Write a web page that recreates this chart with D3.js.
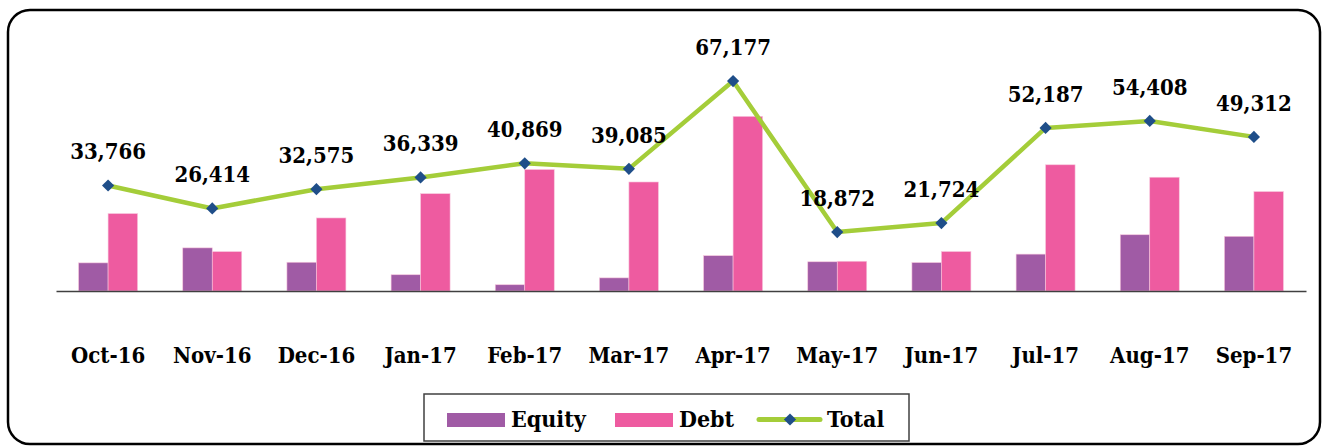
<!DOCTYPE html>
<html>
<head>
<meta charset="utf-8">
<script src="https://cdn.jsdelivr.net/npm/d3@7"></script>
<style>
  body { margin: 0; background: #fff; }
  svg text { font-stretch: condensed; }
</style>
</head>
<body>
<svg id="chart"></svg>
<script>
// chart data
const months = ["Oct-16", "Nov-16", "Dec-16", "Jan-17", "Feb-17", "Mar-17",
                "Apr-17", "May-17", "Jun-17", "Jul-17", "Aug-17", "Sep-17"];
const equity = [9000, 13800, 9200, 5200, 2000, 4200, 11300, 9350, 9100, 11800, 18000, 17500];
const debt = [24766, 12600, 23375, 31139, 38869, 34885, 55877, 9522, 12624, 40387, 36408, 31812];
const total = [33766, 26414, 32575, 36339, 40869, 39085, 67177, 18872, 21724, 52187, 54408, 49312];
const seriesNames = ["Equity", "Debt", "Total"];

const fontFamily = "'DejaVu Serif Condensed', 'DejaVu Serif', serif";

drawChart();

function drawChart() {
    const svgWidth = 1322;
    const svgHeight = 446;
    const colors = { Equity: "#A05BA5", Debt: "#EE5BA0", Total: "#A4CD39" };
    const markerColor = "#1F4E89";

    const svg = d3.select("#chart")
                  .attr("width", svgWidth)
                  .attr("height", svgHeight)
                  .style("font-family", fontFamily);

    // outer rounded frame
    svg.append("rect")
       .attr("x", 8).attr("y", 10)
       .attr("width", 1312).attr("height", 434)
       .attr("rx", 22).attr("ry", 22)
       .attr("fill", "none")
       .attr("stroke", "#000")
       .attr("stroke-width", 2.5);

    //scales
    const xScale = d3.scaleBand()
                     .domain(months)
                     .range([56, 1306])
                     .padding(0);

    const innerScale = d3.scaleBand()
                         .domain(["Equity", "Debt"])
                         .range([0, xScale.bandwidth()])
                         .paddingInner(0)
                         .paddingOuter(0.766);

    const yScale = d3.scaleLinear()
                     .domain([0, 80000])
                     .range([291, 41]);

    const rows = months.map((m, i) => ({ month: m, Equity: equity[i], Debt: debt[i], Total: total[i] }));

    // bars
    const groups = svg.append("g")
                      .selectAll("g")
                      .data(rows)
                      .enter()
                      .append("g")
                      .attr("transform", d => `translate(${xScale(d.month)},0)`);

    groups.selectAll("rect")
          .data(d => ["Equity", "Debt"].map(k => ({ key: k, value: d[k] })))
          .enter()
          .append("rect")
          .attr("x", d => innerScale(d.key))
          .attr("width", innerScale.bandwidth())
          .attr("y", d => yScale(d.value))
          .attr("height", d => yScale(0) - yScale(d.value))
          .attr("fill", d => colors[d.key])
          .attr("stroke", "#f7c6dd")
          .attr("stroke-width", 0.6);

    // x axis (baseline + labels)
    const xAxis = d3.axisBottom(xScale).tickSize(0).tickPadding(0);
    const axisG = svg.append("g")
                     .attr("transform", `translate(0, ${yScale(0)})`)
                     .call(xAxis);
    axisG.attr("font-family", fontFamily);
    axisG.select(".domain").attr("stroke", "#404040").attr("stroke-width", 1.5);
    axisG.selectAll(".tick text")
         .attr("y", 72)
         .attr("dy", 0)
         .attr("font-family", fontFamily)
         .attr("font-size", 22)
         .attr("font-weight", "bold")
         .attr("fill", "#000");

    // total line
    const cx = d => xScale(d.month) + xScale.bandwidth() / 2;
    const line = d3.line()
                   .x(cx)
                   .y(d => yScale(d.Total));

    svg.append("path")
       .datum(rows)
       .attr("d", line)
       .attr("fill", "none")
       .attr("stroke", colors.Total)
       .attr("stroke-width", 4.5)
       .attr("stroke-linejoin", "round");

    const diamond = d3.symbol().type(d3.symbolDiamond2).size(95);

    svg.append("g")
       .selectAll("path")
       .data(rows)
       .enter()
       .append("path")
       .attr("d", diamond)
       .attr("transform", d => `translate(${cx(d)},${yScale(d.Total)})`)
       .attr("fill", markerColor);

    // data labels
    svg.append("g")
       .selectAll("text")
       .data(rows)
       .enter()
       .append("text")
       .attr("x", cx)
       .attr("y", d => yScale(d.Total) - 26)
       .attr("text-anchor", "middle")
       .attr("font-family", fontFamily)
       .attr("font-size", 22)
       .attr("font-weight", "bold")
       .text(d => d3.format(",")(d.Total));

    // legend
    const legend = svg.append("g");
    legend.append("rect")
          .attr("x", 424).attr("y", 394)
          .attr("width", 485).attr("height", 47)
          .attr("fill", "#fff")
          .attr("stroke", "#404040")
          .attr("stroke-width", 1.5);

    const legendX = { Equity: 447, Debt: 615, Total: 759 };
    seriesNames.forEach(name => {
        const x = legendX[name];
        if (name === "Total") {
            legend.append("line")
                  .attr("x1", x).attr("x2", x + 61)
                  .attr("y1", 419.5).attr("y2", 419.5)
                  .attr("stroke", colors.Total)
                  .attr("stroke-width", 5)
                  .attr("stroke-linecap", "round");
            legend.append("path")
                  .attr("d", diamond)
                  .attr("transform", `translate(${x + 31},419.5)`)
                  .attr("fill", markerColor);
        }
        else {
            legend.append("rect")
                  .attr("x", x).attr("y", 413)
                  .attr("width", 58).attr("height", 14)
                  .attr("fill", colors[name]);
        }
        legend.append("text")
              .attr("x", x + (name === "Total" ? 68 : 64)).attr("y", 427)
              .attr("font-family", fontFamily)
              .attr("font-size", 23).attr("font-weight", "bold")
              .text(name);
    });
}
</script>
</body>
</html>
